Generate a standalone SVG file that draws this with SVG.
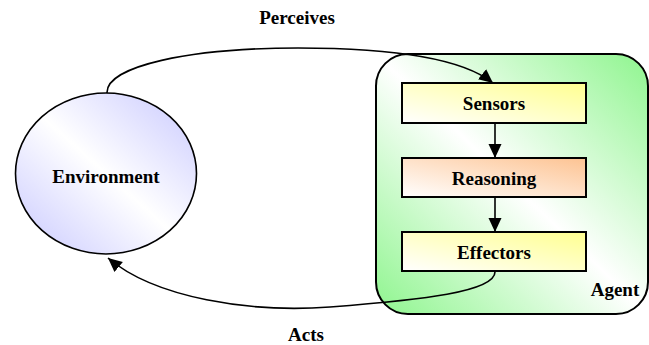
<svg xmlns="http://www.w3.org/2000/svg" width="649" height="345" viewBox="0 0 649 345">
<defs>
<linearGradient id="gAgent" x1="0" y1="1" x2="1" y2="0">
<stop offset="0" stop-color="#8ef58e"/>
<stop offset="0.5" stop-color="#ffffff"/>
<stop offset="1" stop-color="#8ef58e"/>
</linearGradient>
<linearGradient id="gEnv" x1="0" y1="1" x2="1" y2="0">
<stop offset="0" stop-color="#c8c8ff"/>
<stop offset="0.5" stop-color="#ffffff"/>
<stop offset="1" stop-color="#c8c8ff"/>
</linearGradient>
<linearGradient id="gYellow" x1="0" y1="1" x2="1" y2="0">
<stop offset="0" stop-color="#ffffff"/>
<stop offset="1" stop-color="#ffff90"/>
</linearGradient>
<linearGradient id="gPeach" x1="0" y1="1" x2="1" y2="0">
<stop offset="0" stop-color="#ffffff"/>
<stop offset="1" stop-color="#fdc392"/>
</linearGradient>
<marker id="arrow" viewBox="0 0 14 14" refX="14" refY="7" markerWidth="14" markerHeight="14" markerUnits="userSpaceOnUse" orient="auto">
<path d="M0,0.5 L14,7 L0,13.5 Z" fill="#000"/>
</marker>
</defs>
<style>
.lbl{font-family:"Liberation Serif","Times New Roman",serif;font-weight:bold;font-size:19px;fill:#000;text-anchor:middle}
.box{stroke:#000;stroke-width:2}
.edge{fill:none;stroke:#000;stroke-width:1.6}
</style>
<rect width="649" height="345" fill="#ffffff"/>
<g id="agent">
<rect x="376" y="54" width="272" height="260" rx="32" ry="32" fill="url(#gAgent)" class="box" stroke-width="1.6"/>
<text class="lbl" x="615" y="296">Agent</text>
</g>
<g id="environment">
<ellipse cx="106" cy="173.5" rx="90.5" ry="80.5" fill="url(#gEnv)" stroke="#000" stroke-width="1.6"/>
<text class="lbl" x="106" y="183">Environment</text>
</g>
<g id="sensors">
<rect x="402" y="83" width="184" height="40" fill="url(#gYellow)" class="box"/>
<text class="lbl" x="494" y="110">Sensors</text>
</g>
<g id="reasoning">
<rect x="402" y="158" width="184" height="39" fill="url(#gPeach)" class="box"/>
<text class="lbl" x="494" y="185">Reasoning</text>
</g>
<g id="effectors">
<rect x="402" y="232" width="184" height="39" fill="url(#gYellow)" class="box"/>
<text class="lbl" x="494" y="259">Effectors</text>
</g>
<g id="connectors">
<path class="edge" d="M107,93 C106,66 190,48 298,48 C390,48 462,58 493,83" marker-end="url(#arrow)"/>
<path class="edge" d="M495,123 L495,158" marker-end="url(#arrow)"/>
<path class="edge" d="M495,197 L495,232" marker-end="url(#arrow)"/>
<path class="edge" d="M495,271 C497,292 420,300 330,307 C250,313 155,298 108,258" marker-end="url(#arrow)"/>
<text class="lbl" x="297" y="24">Perceives</text>
<text class="lbl" x="306" y="341">Acts</text>
</g>
</svg>
